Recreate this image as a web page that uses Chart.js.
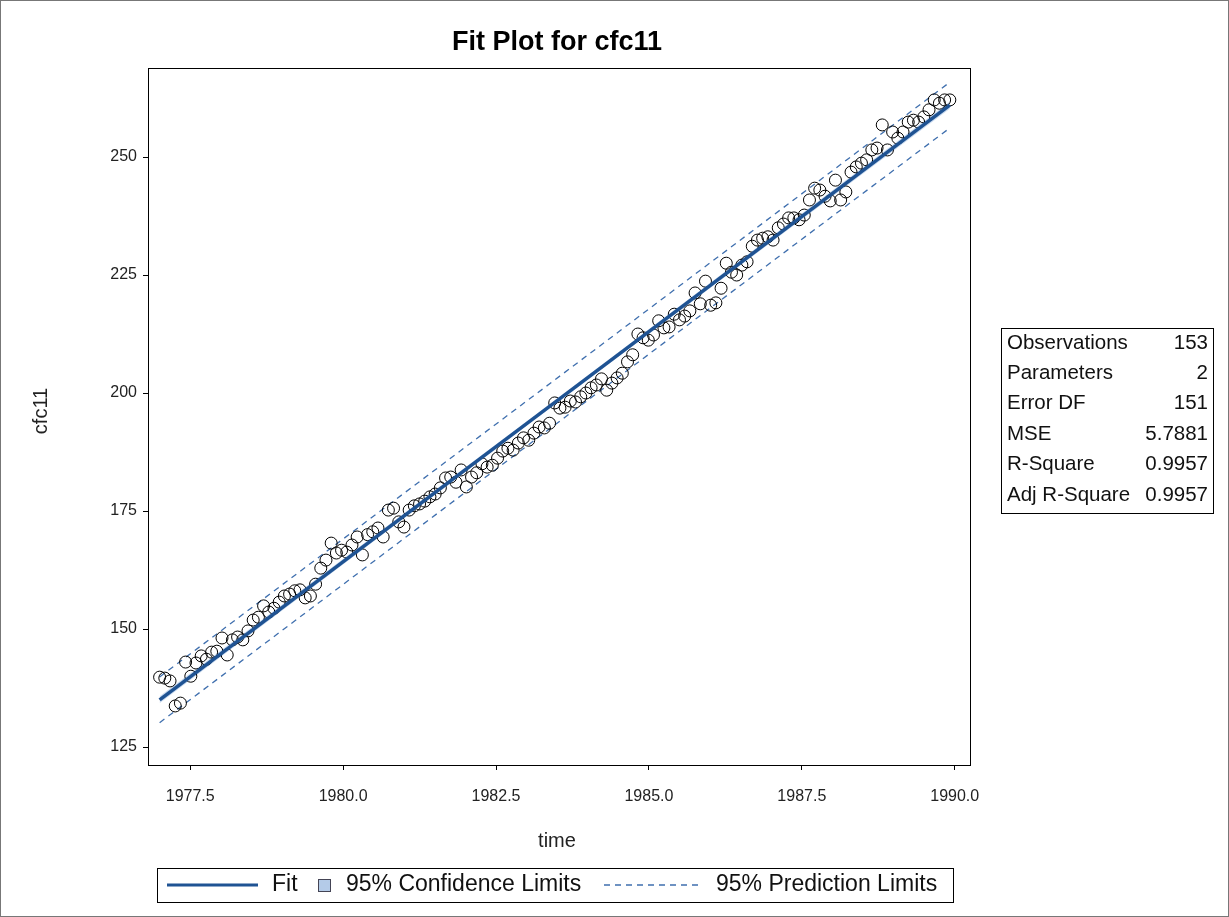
<!DOCTYPE html>
<html>
<head>
<meta charset="utf-8">
<title>Fit Plot for cfc11</title>
<script src="https://cdn.jsdelivr.net/npm/chart.js@4.4.0/dist/chart.umd.min.js"></script>
<style>
body{margin:0;background:#fff;}
#wrap{width:1229px;height:917px;position:relative;}
</style>
</head>
<body>
<div id="wrap"><canvas id="fitChart" width="1229" height="917"></canvas></div>
<script>
/* ===== DATA ===== */

// monthly observations
const cfc11 = [
139.8,139.6,139.0,133.7,134.3,143.0,140.0,142.8,144.3,143.6,
145.1,145.3,148.1,144.5,147.7,148.3,147.7,149.6,151.9,152.5,
154.9,153.6,154.4,155.7,157.0,157.4,158.1,158.3,156.6,157.0,
159.5,162.9,164.6,168.2,166.1,166.7,166.3,167.8,169.5,165.7,
170.0,170.6,171.4,169.5,175.2,175.6,172.7,171.6,175.2,176.1,
176.5,177.1,178.0,178.6,179.9,182.0,182.2,181.1,183.7,180.1,
182.2,183.1,185.0,184.3,184.7,186.2,187.7,188.3,187.9,189.4,
190.5,190.0,191.5,192.8,192.6,193.6,197.9,196.8,197.0,198.3,
198.1,199.2,200.0,201.1,201.7,203.0,200.6,202.1,203.2,204.2,
206.6,208.1,212.5,211.7,211.2,212.3,215.3,213.8,214.0,216.7,
215.5,216.3,217.4,221.2,218.9,223.7,218.6,219.1,222.2,227.5,
225.6,225.0,227.1,227.8,231.1,232.4,232.8,233.1,232.4,235.0,
235.8,237.1,237.1,236.7,237.7,240.9,243.4,243.0,241.7,240.7,
245.1,240.9,242.6,246.8,247.9,248.7,249.4,251.5,251.9,256.8,
251.5,255.3,254.0,255.3,257.4,257.8,257.4,258.5,260.0,262.1,
261.4,262.1,262.1
];
const timeStart = 1977.0;
const timeStep = 0.085;
const time = cfc11.map((v,i)=>+(timeStart+i*timeStep).toFixed(3));

// regression line and limits
const fitX = [1977.0, 1989.92];
const fitY = [135.0, 261.0];
const limX = [1977.0, 1983.46, 1989.92];
const confLo = [134.25, 197.60, 260.25];
const confHi = [135.75, 198.40, 261.75];
const predLo = [130.15, 193.23, 256.15];
const predHi = [139.85, 202.77, 265.85];

const xTicks = [1977.5, 1980.0, 1982.5, 1985.0, 1987.5, 1990.0];
const yTicks = [125, 150, 175, 200, 225, 250];

const statNames = ["Observations","Parameters","Error DF","MSE","R-Square","Adj R-Square"];
const statValues = ["153","2","151","5.7881","0.9957","0.9957"];

/* ===== STYLE ===== */
const fitColor = "#1f5393";
const dashColor = "#3f6fae";
const bandColor = "rgba(170,196,230,0.6)";
const font = "'Liberation Sans', Arial, sans-serif";

function pts(xs, ys){ return xs.map((x,i)=>({x:x,y:ys[i]})); }

/* ===== TEXT, FRAME, LEGEND, STATS BOX ===== */
const decorPlugin = {
  id: "decor",
  afterDraw(chart){
    const c = chart.ctx;
    const a = chart.chartArea;
    c.save();

    // outer border
    c.strokeStyle = "#777";
    c.lineWidth = 1;
    c.strokeRect(0.5,0.5,1228,916);

    // plot frame
    c.strokeStyle = "#000";
    c.strokeRect(Math.round(a.left)+0.5, Math.round(a.top)+0.5, Math.round(a.right-a.left), Math.round(a.bottom-a.top));

    const cx = (a.left+a.right)/2;

    // title
    c.fillStyle = "#000";
    c.font = "bold 27px " + font;
    c.textAlign = "center";
    c.textBaseline = "middle";
    c.fillText("Fit Plot for cfc11", cx-2, 43);

    // axis titles
    c.font = "20px " + font;
    c.fillStyle = "#222";
    c.fillText("time", cx-2, 841);
    c.save();
    c.translate(41, 411);
    c.rotate(-Math.PI/2);
    c.fillText("cfc11", 0, 0);
    c.restore();

    // stats box
    const bx = 1001, by = 328, bw = 212, bh = 185;
    c.strokeStyle = "#000";
    c.strokeRect(bx+0.5, by+0.5, bw, bh);
    c.font = "20.5px " + font;
    c.fillStyle = "#111";
    for (let i=0;i<statNames.length;i++){
      const ry = by + 15 + i*30.4;
      c.textAlign = "left";
      c.fillText(statNames[i], bx+6, ry);
      c.textAlign = "right";
      c.fillText(statValues[i], bx+bw-5, ry);
    }

    // legend
    const lx = 157, ly = 868, lw = 796, lh = 34, my = ly + lh/2;
    c.strokeRect(lx+0.5, ly+0.5, lw, lh);
    c.strokeStyle = fitColor;
    c.lineWidth = 3;
    c.beginPath(); c.moveTo(167,my); c.lineTo(258,my); c.stroke();
    c.textAlign = "left";
    c.font = "23px " + font;
    c.fillStyle = "#111";
    c.fillText("Fit", 272, my);
    c.fillStyle = "#b4cbe8";
    c.fillRect(318, my-6, 13, 13);
    c.strokeStyle = "#445";
    c.lineWidth = 1;
    c.strokeRect(318.5, my-5.5, 12, 12);
    c.fillStyle = "#111";
    c.fillText("95% Confidence Limits", 346, my);
    c.strokeStyle = dashColor;
    c.lineWidth = 1.3;
    c.setLineDash([6,5]);
    c.beginPath(); c.moveTo(604,my); c.lineTo(702,my); c.stroke();
    c.setLineDash([]);
    c.fillText("95% Prediction Limits", 716, my);

    c.restore();
  }
};

/* ===== CHART ===== */
// lower order = drawn on top
new Chart(document.getElementById("fitChart"), {
  type: "scatter",
  data: {
    datasets: [
      {
        label: "confLo",
        data: pts(limX, confLo),
        order: 5,
        showLine: true, borderWidth: 0, pointRadius: 0, fill: false,
        borderColor: "rgba(0,0,0,0)"
      },
      {
        label: "confHi",
        data: pts(limX, confHi),
        order: 4,
        showLine: true, borderWidth: 0, pointRadius: 0, fill: "-1",
        borderColor: "rgba(0,0,0,0)", backgroundColor: bandColor
      },
      {
        label: "predLo",
        data: pts(limX, predLo),
        order: 3,
        showLine: true, borderWidth: 1.3, pointRadius: 0,
        borderColor: dashColor, borderDash: [6,5]
      },
      {
        label: "predHi",
        data: pts(limX, predHi),
        order: 3,
        showLine: true, borderWidth: 1.3, pointRadius: 0,
        borderColor: dashColor, borderDash: [6,5]
      },
      {
        label: "cfc11",
        data: pts(time, cfc11),
        order: 2,
        pointStyle: "circle", pointRadius: 6, borderWidth: 1,
        borderColor: "#000", backgroundColor: "rgba(0,0,0,0)"
      },
      {
        label: "Fit",
        data: pts(fitX, fitY),
        order: 1,
        showLine: true, borderWidth: 3.5, pointRadius: 0,
        borderColor: fitColor
      }
    ]
  },
  options: {
    responsive: false,
    animation: false,
    layout: { padding: { left: 0, top: 68, right: 259, bottom: 0 } },
    plugins: {
      legend: { display: false },
      title: { display: false },
      tooltip: { enabled: false }
    },
    scales: {
      x: {
        type: "linear",
        min: 1976.81, max: 1990.25,
        afterBuildTicks: s => { s.ticks = xTicks.map(v=>({value:v})); },
        afterFit: s => { s.height = 152; },
        grid: { drawOnChartArea: false, drawTicks: true, tickLength: 5, color: "#000" },
        border: { display: true, color: "#000" },
        ticks: {
          color: "#222", font: { family: font, size: 16 }, padding: 17,
          maxRotation: 0, autoSkip: false,
          callback: v => v.toFixed(1)
        }
      },
      y: {
        min: 121.19, max: 268.86,
        afterBuildTicks: s => { s.ticks = yTicks.map(v=>({value:v})); },
        afterFit: s => { s.width = 148; },
        grid: { drawOnChartArea: false, drawTicks: true, tickLength: 5, color: "#000" },
        border: { display: true, color: "#000" },
        ticks: {
          color: "#222", font: { family: font, size: 16 }, padding: 6,
          autoSkip: false
        }
      }
    }
  },
  plugins: [decorPlugin]
});
</script>
</body>
</html>
